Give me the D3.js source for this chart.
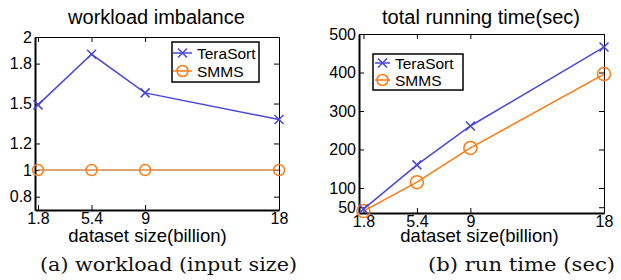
<!DOCTYPE html>
<html>
<head>
<meta charset="utf-8">
<script src="https://cdn.jsdelivr.net/npm/d3@7"></script>
<style>
body { margin: 0; background: #fff; }
svg { display: block; }
.axis path, .axis line { stroke: #000; }
.axis text { font-family: "Liberation Sans", Arial, sans-serif; font-size: 16px; fill: #000; }
.chart-title, .chart-xlabel, .legend-text { font-family: "Liberation Sans", Arial, sans-serif; fill: #000; }
.caption { font-family: "DejaVu Serif", "Liberation Serif", serif; font-size: 18.5px; fill: #111; }
</style>
</head>
<body>
<svg id="chart" width="621" height="280"></svg>
<script>

// dataset sizes (billion)
var aSizes = [1.8, 5.4, 9, 18];

// (a) workload imbalance
var aImbalanceTeraSort = [1.49, 1.87, 1.58, 1.38];
var aImbalanceSMMS = [1.0, 1.0, 1.0, 1.0];
var aImbalanceTicks = [0.8, 1, 1.2, 1.5, 1.8, 2];

// (b) total running time (sec)
var aTimeTeraSort = [45, 160, 261, 466];
var aTimeSMMS = [40, 115, 204, 396];
var aTimeTicks = [50, 100, 200, 300, 400, 500];

var aSeriesNames = ['TeraSort', 'SMMS'];

const strBlue = '#4848d8';
const strOrange = '#ff7a10';

var sSvg = d3.select('#chart');

function DrawPanel(aProps)
{
	var nLeft = aProps.left, nTop = aProps.top, nWidth = aProps.width, nHeight = aProps.height;

	var scaleX = d3.scaleLinear()
		.domain(aProps.xDomain)
		.range([0, nWidth]);

	var scaleY = d3.scaleLinear()
		.domain(aProps.yDomain)
		.range([nHeight, 0]);

	var sChart = sSvg.append('g')
		.attr('transform', 'translate(' + nLeft + ',' + nTop + ')');

	// box with inside ticks on all four sides
	sChart.append('g').attr('class', 'axis')
		.call(d3.axisLeft(scaleY).tickValues(aProps.yTicks).tickSizeInner(-5).tickSizeOuter(0).tickPadding(3)
			.tickFormat(d3.format('~g')));
	sChart.append('g').attr('class', 'axis')
		.attr('transform', 'translate(' + nWidth + ',0)')
		.call(d3.axisRight(scaleY).tickValues(aProps.yTicks).tickSizeInner(-5).tickSizeOuter(0).tickFormat(''));
	sChart.append('g').attr('class', 'axis')
		.attr('transform', 'translate(0,' + nHeight + ')')
		.call(d3.axisBottom(scaleX).tickValues(aSizes).tickSizeInner(-5).tickSizeOuter(0).tickPadding(3)
			.tickFormat(d3.format('~g')));
	sChart.append('g').attr('class', 'axis')
		.call(d3.axisTop(scaleX).tickValues(aSizes).tickSizeInner(-5).tickSizeOuter(0).tickFormat(''));

	sChart.selectAll('.axis path').attr('stroke-width', 1);
	sChart.selectAll('.axis').filter(function(d, i) { return i == 0 || i == 2; })
		.select('.domain').attr('stroke-width', 2);

	sChart.append('text')
		.attr('class', 'chart-title')
		.attr('x', aProps.titleX)
		.attr('y', aProps.titleY)
		.attr('text-anchor', 'middle')
		.style('font-size', '20px')
		.text(aProps.title);

	sSvg.append('text')
		.attr('class', 'chart-xlabel')
		.attr('x', nLeft + aProps.xLabelX)
		.attr('y', 242)
		.attr('text-anchor', 'middle')
		.style('font-size', '18.5px')
		.text('dataset size(billion)');

	var lineGen = d3.line()
		.x(function(d, i) { return scaleX(aSizes[i]); })
		.y(function(d) { return scaleY(d); });

	// SMMS
	sChart.append('path')
		.datum(aProps.smms)
		.attr('fill', 'none')
		.attr('stroke', aProps.smmsLine)
		.attr('stroke-width', 1.5)
		.attr('d', lineGen);
	sChart.selectAll('.smms-marker')
		.data(aProps.smms)
		.enter()
			.append('circle')
				.attr('class', 'smms-marker')
				.attr('cx', function(d, i) { return scaleX(aSizes[i]); })
				.attr('cy', function(d) { return scaleY(d); })
				.attr('r', aProps.circleR)
				.attr('fill', 'none')
				.attr('stroke', strOrange)
				.attr('stroke-width', 1.5);

	// TeraSort
	sChart.append('path')
		.datum(aProps.tera)
		.attr('fill', 'none')
		.attr('stroke', strBlue)
		.attr('stroke-width', 1.5)
		.attr('d', lineGen);
	sChart.selectAll('.tera-marker')
		.data(aProps.tera)
		.enter()
			.append('path')
				.attr('class', 'tera-marker')
				.attr('transform', function(d, i) { return 'translate(' + scaleX(aSizes[i]) + ',' + scaleY(d) + ')'; })
				.attr('d', 'M-4.5,-4.5L4.5,4.5M-4.5,4.5L4.5,-4.5')
				.attr('stroke', strBlue)
				.attr('stroke-width', 1.5);

	// legend
	var oLeg = aProps.legend;
	var sLegend = sSvg.append('g')
		.attr('transform', 'translate(' + oLeg.x + ',' + oLeg.y + ')');
	sLegend.append('rect')
		.attr('width', oLeg.w)
		.attr('height', oLeg.h)
		.attr('fill', '#fff')
		.attr('stroke', '#000')
		.attr('stroke-width', 1.5);

	aSeriesNames.forEach(function(strName, i)
	{
		var nY = oLeg.rowY[i];
		var strColor = (i == 0) ? strBlue : strOrange;
		sLegend.append('line')
			.attr('x1', oLeg.lineX1).attr('x2', oLeg.lineX2)
			.attr('y1', nY).attr('y2', nY)
			.attr('stroke', strColor)
			.attr('stroke-width', 1.5);
		var nMx = (oLeg.lineX1 + oLeg.lineX2) / 2;
		if (i == 0)
		{
			sLegend.append('path')
				.attr('transform', 'translate(' + nMx + ',' + nY + ')')
				.attr('d', 'M-4.5,-4.5L4.5,4.5M-4.5,4.5L4.5,-4.5')
				.attr('stroke', strColor)
				.attr('stroke-width', 1.5);
		}
		else
		{
			sLegend.append('circle')
				.attr('cx', nMx).attr('cy', nY)
				.attr('r', 5.5)
				.attr('fill', 'none')
				.attr('stroke', strColor)
				.attr('stroke-width', 1.5);
		}
		sLegend.append('text')
			.attr('class', 'legend-text')
			.attr('x', oLeg.textX)
			.attr('y', nY)
			.attr('dy', '0.36em')
			.style('font-size', '15.5px')
			.text(strName);
	});

	sSvg.append('text')
		.attr('class', 'caption')
		.attr('x', aProps.captionX)
		.attr('y', 271)
		.attr('textLength', aProps.captionW)
		.attr('lengthAdjust', 'spacingAndGlyphs')
		.text(aProps.caption);
}

DrawPanel({
	left: 35, top: 37, width: 244, height: 173,
	xDomain: [1.6, 18], yDomain: [0.7, 2], yTicks: aImbalanceTicks,
	tera: aImbalanceTeraSort, smms: aImbalanceSMMS,
	smmsLine: '#d0884e', circleR: 5.5,
	title: 'workload imbalance', titleX: 121.5, titleY: -13,
	xLabelX: 112.5,
	legend: { x: 172, y: 42, w: 87, h: 40, rowY: [11, 29], lineX1: 1, lineX2: 20, textX: 25 },
	caption: '(a) workload (input size)', captionX: 40, captionW: 257
});

DrawPanel({
	left: 359, top: 34, width: 245, height: 179,
	xDomain: [1.5, 18], yDomain: [35, 500], yTicks: aTimeTicks,
	tera: aTimeTeraSort, smms: aTimeSMMS,
	smmsLine: strOrange, circleR: 6.5,
	title: 'total running time(sec)', titleX: 122, titleY: -10,
	xLabelX: 120.5,
	legend: { x: 373, y: 54, w: 90, h: 36, rowY: [9, 26], lineX1: 2, lineX2: 17, textX: 22 },
	caption: '(b) run time (sec)', captionX: 428, captionW: 187
});

</script>
</body>
</html>
